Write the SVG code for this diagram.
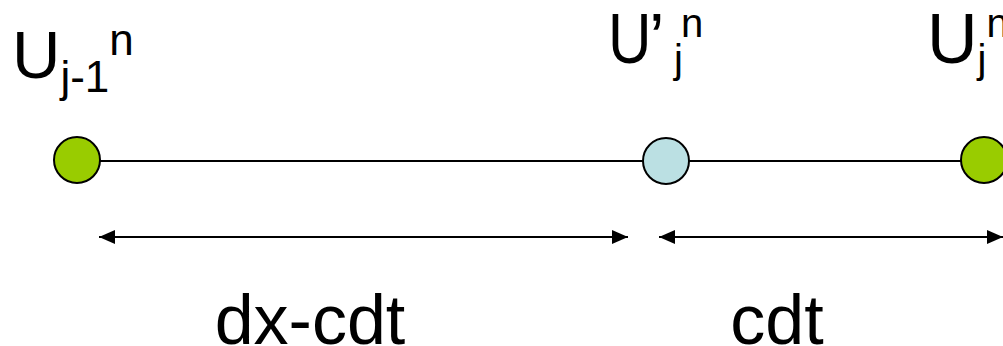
<svg xmlns="http://www.w3.org/2000/svg" width="1003" height="346" viewBox="0 0 1003 346">
  <style>
    .lbl { font-family: "Liberation Sans", Arial, sans-serif; fill: #000; }
    .big { font-size: 67px; }
    .mid { font-size: 70px; }
    .sub { font-size: 40px; }
    .sub44 { font-size: 44px; }
    .dim { font-size: 70px; }
    .pt { stroke: #000; stroke-width: 2; }
    .green { fill: #99CC00; }
    .blue { fill: #BBE0E3; }
    .conn { stroke: #000; stroke-width: 2; fill: none; }
  </style>
  <defs>
    <marker id="ah" markerUnits="userSpaceOnUse" markerWidth="16" markerHeight="14" refX="16" refY="7" orient="auto-start-reverse">
      <path d="M0,0 L16,7 L0,14 Z" fill="#000"/>
    </marker>
  </defs>

  <rect width="1003" height="346" fill="#fff"/>

  <!-- connectors: baseline through the grid points and the two distance arrows -->
  <g id="connectors">
    <line class="conn" x1="77" y1="161" x2="984" y2="161"/>
    <line class="conn" x1="99" y1="237" x2="628" y2="237" marker-start="url(#ah)" marker-end="url(#ah)"/>
    <line class="conn" x1="659" y1="237" x2="1003" y2="237" marker-start="url(#ah)" marker-end="url(#ah)"/>
  </g>

  <!-- grid point j-1 -->
  <g id="node-u-jm1">
    <circle class="pt green" cx="77" cy="160" r="23"/>
    <text class="lbl" x="12" y="78"><tspan class="big">U</tspan><tspan class="sub44" y="92">j-1</tspan><tspan class="sub44" y="55">n</tspan></text>
  </g>

  <!-- intermediate point U'j -->
  <g id="node-u-prime">
    <circle class="pt blue" cx="666" cy="161" r="23"/>
    <text class="lbl mid" transform="translate(608,63) scale(0.86,1)">U</text>
    <text class="lbl mid" x="649" y="63">’</text>
    <text class="lbl sub" x="674" y="73">j</text>
    <text class="lbl sub" x="681" y="37">n</text>
  </g>

  <!-- grid point j -->
  <g id="node-u-j">
    <circle class="pt green" cx="984" cy="160" r="23"/>
    <text class="lbl" x="927" y="63"><tspan class="mid">U</tspan><tspan class="sub" y="73">j</tspan><tspan class="sub" y="37">n</tspan></text>
  </g>

  <!-- distance labels -->
  <g id="label-dx-cdt">
    <text class="lbl dim" x="310" y="344" text-anchor="middle">dx-cdt</text>
  </g>
  <g id="label-cdt">
    <text class="lbl dim" x="777" y="344" text-anchor="middle">cdt</text>
  </g>
</svg>
